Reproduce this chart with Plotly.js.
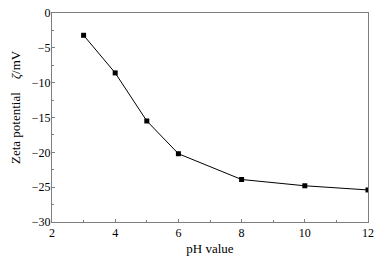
<!DOCTYPE html>
<html>
<head>
<meta charset="utf-8">
<script src="https://cdn.plot.ly/plotly-3.0.1.min.js"></script>
<style>html,body{margin:0;padding:0;background:#fff;}#chart{width:388px;height:258px;}</style>
</head>
<body>
<div id="chart"></div>
<script>
const phValues = [3, 4, 5, 6, 8, 10, 12];
const zetaPotential = [-3.2, -8.6, -15.5, -20.2, -23.9, -24.8, -25.4];
const xTicks = [2, 4, 6, 8, 10, 12];
const yTicks = [0, -5, -10, -15, -20, -25, -30];

const font = {family: 'Liberation Serif, Times New Roman, serif', size: 12, color: '#000'};
const axisColor = '#7f7f7f';

Plotly.newPlot('chart', [{
  x: phValues, y: zetaPotential, type: 'scatter', mode: 'lines+markers',
  line: {color: '#000', width: 1},
  marker: {symbol: 'square', size: 5, color: '#000'}
}], {
  width: 388, height: 258,
  margin: {l: 52, r: 20, t: 13, b: 36},
  paper_bgcolor: '#fff', plot_bgcolor: '#fff',
  font: font,
  showlegend: false,
  xaxis: {
    range: [2, 12], tickvals: xTicks, ticktext: xTicks.map(String),
    showgrid: false, zeroline: false, showline: true, linecolor: axisColor, linewidth: 1, mirror: true,
    ticks: 'inside', ticklen: 3, tickcolor: axisColor, tickfont: font,
    minor: {dtick: 1, ticks: 'inside', ticklen: 2, tickcolor: axisColor, showgrid: false},
    title: {text: 'pH value', font: {family: font.family, size: 13, color: '#000'}, standoff: 4}
  },
  yaxis: {
    range: [-30, 0], tickvals: yTicks,
    showgrid: false, zeroline: false, showline: true, linecolor: axisColor, linewidth: 1, mirror: true,
    ticks: 'inside', ticklen: 3, tickcolor: axisColor, tickfont: font, ticklabelstandoff: -2,
    minor: {dtick: 2.5, ticks: 'inside', ticklen: 2, tickcolor: axisColor, showgrid: false}
  },
  annotations: [{
    text: 'Zeta potential&nbsp;&nbsp;&nbsp;&nbsp;<i>ζ</i>/mV', textangle: -90,
    xref: 'paper', yref: 'paper', x: 0, y: 0.55, xanchor: 'center', yanchor: 'middle',
    xshift: -37, showarrow: false,
    font: {family: font.family, size: 13, color: '#000'}
  }]
}, {displayModeBar: false, staticPlot: true});
</script>
</body>
</html>
